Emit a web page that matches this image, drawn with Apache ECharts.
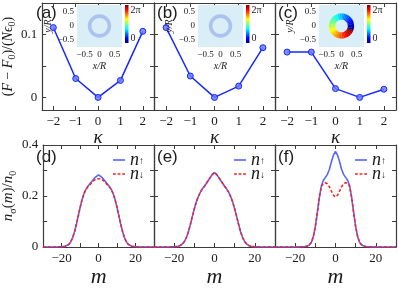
<!DOCTYPE html>
<html><head><meta charset="utf-8">
<script src="https://cdn.jsdelivr.net/npm/echarts@6/dist/echarts.min.js"></script>
<style>html,body{margin:0;padding:0;background:#fff}#c{width:399px;height:289px}</style>
</head><body><div id="c"></div>
<script>
// ---------- data ----------
const kappa = [-2, -1, 0, 1, 2];
const energyA = [0.111, 0.030, 0.000, 0.027, 0.105];
const energyB = [0.111, 0.034, 0.000, 0.018, 0.079];
const energyC = [0.072, 0.072, 0.014, 0.000, 0.013];
const kappaTicks = [-2, -1, 0, 1, 2];
const energyTicks = [0, 0.05, 0.1];
const energyLabels = [0, 0.1];

const insetTicks = [-0.5, 0, 0.5];
const ringAB = [0.27, 0.39];          // inner, outer radius (x/R)
const ringC = [0.21, 0.42];
const phaseEdges = [0,10,20,30,40,50,60,70,80,90,100,110,120,130,140,150,160,170,180,190,200,210,220,230,240,250,260,270,280,290,300,310,320,330,340,350,360];
const phaseCut = -20;                 // angle (deg) where phase jumps 2π -> 0
const colorbarRange = [0, 2 * Math.PI];

const m = [-30,-25,-22,-20,-19,-18,-17,-16,-15,-14,-13,-12,-11,-10,-9,-8,-7,-6,-5,-4,-3,-2,-1,0,1,2,3,4,5,6,7,8,9,10,11,12,13,14,15,16,17,18,19,20,22,25,30];
const dUp = [0,0,0.0005,0.001,0.002,0.003,0.006,0.011,0.021,0.037,0.060,0.089,0.122,0.155,0.184,0.207,0.224,0.236,0.245,0.254,0.263,0.272,0.279,0.283,0.279,0.272,0.263,0.254,0.245,0.236,0.224,0.207,0.184,0.155,0.122,0.089,0.060,0.037,0.021,0.011,0.006,0.003,0.002,0.001,0.0005,0,0];
const dDown = [0,0,0.0005,0.001,0.002,0.003,0.006,0.011,0.021,0.037,0.060,0.089,0.122,0.155,0.184,0.207,0.224,0.234,0.242,0.250,0.258,0.264,0.268,0.270,0.268,0.264,0.258,0.250,0.242,0.234,0.224,0.207,0.184,0.155,0.122,0.089,0.060,0.037,0.021,0.011,0.006,0.003,0.002,0.001,0.0005,0,0];
const eUp = [0,0,0.0005,0.001,0.002,0.003,0.006,0.011,0.021,0.036,0.058,0.087,0.119,0.150,0.177,0.198,0.215,0.228,0.238,0.250,0.262,0.274,0.285,0.292,0.285,0.274,0.262,0.250,0.238,0.228,0.215,0.198,0.177,0.150,0.119,0.087,0.058,0.036,0.021,0.011,0.006,0.003,0.002,0.001,0.0005,0,0];
const eDown = eUp.slice();
const fUp = [0,0,0,0,0,0.0005,0.001,0.001,0.002,0.004,0.008,0.018,0.040,0.080,0.135,0.195,0.240,0.262,0.273,0.285,0.305,0.335,0.360,0.375,0.360,0.335,0.305,0.285,0.273,0.262,0.240,0.195,0.135,0.080,0.040,0.018,0.008,0.004,0.002,0.001,0.001,0.0005,0,0,0,0,0];
const fDown = [0,0,0,0,0,0.0005,0.001,0.001,0.002,0.004,0.008,0.018,0.040,0.080,0.135,0.195,0.238,0.249,0.252,0.248,0.236,0.219,0.203,0.196,0.203,0.219,0.236,0.248,0.252,0.249,0.238,0.195,0.135,0.080,0.040,0.018,0.008,0.004,0.002,0.001,0.001,0.0005,0,0,0,0,0];
const mTicks = [-20, -10, 0, 10, 20];
const mLabels = [-20, 0, 20];
const densTicks = [0, 0.1, 0.2, 0.3, 0.4];
const densLabels = [0, 0.2, 0.4];
const legendNames = ['n↑', 'n↓'];

// ---------- style ----------
const SERIF = '"Liberation Serif","DejaVu Serif",serif';
const SANS = '"Liberation Sans",Arial,sans-serif';
const AX = '#3c3c3c';
const TXT = '#1a1a1a';
const fmt = v => String(v).replace('-', '\u2212');
const lefts = [33, 154, 275], W = 121;
const topT = 3, topH = 107, botT = 145, botH = 117;

function jet(t) {
  const c = x => Math.round(255 * Math.max(0, Math.min(1, x)));
  return 'rgb(' + c(1.5 - Math.abs(4 * t - 3)) + ',' + c(1.5 - Math.abs(4 * t - 2)) + ',' + c(1.5 - Math.abs(4 * t - 1)) + ')';
}
const jetStops = [];
for (let i = 0; i <= 8; i++) jetStops.push({ offset: i / 8, color: jet(1 - i / 8) });

const grid = [], xAxis = [], yAxis = [], series = [], graphic = [];

function addFrame(g, xmin, xmax, xticks, xlabels, ymin, ymax, yticks, ylabels, xname, xnameSize, xnameGap, yname, ynameGap) {
  const xi = xAxis.length, yi = yAxis.length;
  const line = { show: true, onZero: false, lineStyle: { color: AX, width: 1.2 } };
  const tick = vals => ({ show: true, inside: true, length: 4, customValues: vals, lineStyle: { color: AX, width: 1 } });
  const lab = (vals, show) => ({ show: show, customValues: vals, formatter: fmt, fontFamily: SERIF, fontSize: 13, color: TXT, margin: 5 });
  xAxis.push({ type: 'value', gridIndex: g, min: xmin, max: xmax, axisLine: line, axisTick: tick(xticks), axisLabel: lab(xlabels, true), splitLine: { show: false },
    name: xname, nameLocation: 'middle', nameGap: xnameGap, nameTextStyle: { fontFamily: SERIF, fontStyle: 'italic', fontSize: xnameSize, color: TXT } });
  xAxis.push({ type: 'value', gridIndex: g, position: 'top', min: xmin, max: xmax, axisLine: line, axisTick: tick(xticks), axisLabel: { show: false }, splitLine: { show: false } });
  const yl = { type: 'value', gridIndex: g, position: 'left', min: ymin, max: ymax, axisLine: line, axisTick: tick(yticks), axisLabel: lab(ylabels, !!ylabels), splitLine: { show: false } };
  if (yname) Object.assign(yl, { name: yname.text, nameLocation: 'middle', nameGap: ynameGap, nameRotate: 90, nameTextStyle: { rich: yname.rich } });
  yAxis.push(yl);
  yAxis.push({ type: 'value', gridIndex: g, position: 'right', min: ymin, max: ymax, axisLine: line, axisTick: tick(yticks), axisLabel: { show: false }, splitLine: { show: false } });
  return [xi, yi];
}

const richAxisName = (size, sub) => ({
  i: { fontFamily: SERIF, fontStyle: 'italic', fontSize: size, color: TXT, lineHeight: size + 4 },
  r: { fontFamily: SERIF, fontSize: size, color: TXT, lineHeight: size + 4 },
  s: { fontFamily: SERIF, fontSize: sub, color: TXT, verticalAlign: 'bottom', lineHeight: size + 4 }
});

// ---------- top panels ----------
const energies = [energyA, energyB, energyC];
const labelsTop = ['(a)', '(b)', '(c)'];
for (let p = 0; p < 3; p++) {
  const L = lefts[p];
  grid.push({ left: L, top: topT, width: W, height: topH, containLabel: false });
  const g = grid.length - 1;
  const yname = p === 0 ? { text: '{r|(}{i|F}{r| − }{i|F}{s|0}{r|)/(}{i|Nϵ}{s|0}{r|)}', rich: richAxisName(14, 10) } : null;
  const [xi, yi] = addFrame(g, -2.5, 2.5, kappaTicks, kappaTicks, -0.02, 0.15, energyTicks, p === 0 ? energyLabels : null, 'κ', 19, 17, yname, 20);
  series.push({ type: 'line', xAxisIndex: xi, yAxisIndex: yi, data: kappa.map((k, i) => [k, energies[p][i]]),
    symbol: 'circle', symbolSize: 6, lineStyle: { color: '#1428ff', width: 1.5 },
    itemStyle: { color: 'rgba(110,125,255,0.85)', borderColor: '#1428ff', borderWidth: 1 }, z: 3 });
  graphic.push({ type: 'text', left: L + 3, top: topT + 2, style: { text: labelsTop[p], font: '17px ' + SANS, fill: TXT } });

  // inset
  grid.push({ left: L + 44, top: 5, width: 45, height: 42, show: true, backgroundColor: '#d9eef6', borderWidth: 0, z: 5 });
  const gi = grid.length - 1;
  const ix = xAxis.length, iy = yAxis.length;
  const small = { fontFamily: SERIF, fontSize: 9, color: TXT, formatter: fmt, margin: 3, customValues: insetTicks };
  xAxis.push({ type: 'value', gridIndex: gi, min: -0.75, max: 0.75, axisLine: { show: false, onZero: false }, axisTick: { show: false }, splitLine: { show: false },
    axisLabel: small, name: 'x/R', nameLocation: 'middle', nameGap: 14, nameTextStyle: { fontFamily: SERIF, fontStyle: 'italic', fontSize: 10, color: TXT }, z: 5 });
  yAxis.push({ type: 'value', gridIndex: gi, min: -0.75, max: 0.75, axisLine: { show: false, onZero: false }, axisTick: { show: false }, splitLine: { show: false },
    axisLabel: small, name: 'y/R', nameLocation: 'middle', nameGap: 19, nameRotate: 90, nameTextStyle: { fontFamily: SERIF, fontStyle: 'italic', fontSize: 10, color: TXT }, z: 5 });
  if (p < 2) {
    series.push({ type: 'custom', xAxisIndex: ix, yAxisIndex: iy, z: 6, silent: true, data: [[0, 0, ringAB[0], ringAB[1]]],
      renderItem: (params, api) => {
        const c = api.coord([api.value(0), api.value(1)]);
        const r0 = api.size([api.value(2), 0])[0], r = api.size([api.value(3), 0])[0];
        return { type: 'ring', shape: { cx: c[0], cy: c[1], r0: r0, r: r }, style: { fill: '#abc3ee' } };
      } });
  } else {
    const segs = [];
    for (let i = 0; i < phaseEdges.length - 1; i++) segs.push([phaseEdges[i], phaseEdges[i + 1]]);
    series.push({ type: 'custom', xAxisIndex: ix, yAxisIndex: iy, z: 6, silent: true, data: segs,
      renderItem: (params, api) => {
        const a0 = api.value(0), a1 = api.value(1);
        const c = api.coord([0, 0]);
        const r0 = api.size([ringC[0], 0])[0], r = api.size([ringC[1], 0])[0];
        let ph = ((a0 + a1) / 2 - phaseCut) % 360; if (ph < 0) ph += 360;
        const col = jet(ph / 360);
        return { type: 'sector', shape: { cx: c[0], cy: c[1], r0: r0, r: r, startAngle: -(a1 + 0.6) * Math.PI / 180, endAngle: -a0 * Math.PI / 180, clockwise: true },
          style: { fill: col } };
      } });
  }
  // colorbar
  grid.push({ left: L + 92, top: 5, width: 3.5, height: 38, z: 5 });
  const gc = grid.length - 1;
  const cx = xAxis.length, cy = yAxis.length;
  xAxis.push({ type: 'value', gridIndex: gc, min: 0, max: 1, show: false });
  yAxis.push({ type: 'value', gridIndex: gc, position: 'right', min: colorbarRange[0], max: colorbarRange[1], axisLine: { show: false, onZero: false }, axisTick: { show: false }, splitLine: { show: false },
    axisLabel: { customValues: colorbarRange, formatter: v => v === 0 ? '0' : '2π', fontFamily: SERIF, fontSize: 10, color: TXT, margin: 2,
      verticalAlignMinLabel: 'bottom', verticalAlignMaxLabel: 'top' } });
  series.push({ type: 'custom', xAxisIndex: cx, yAxisIndex: cy, z: 6, silent: true, data: [colorbarRange],
    renderItem: (params, api) => {
      const p0 = api.coord([0, api.value(1)]), p1 = api.coord([1, api.value(0)]);
      return { type: 'rect', shape: { x: p0[0], y: p0[1], width: p1[0] - p0[0], height: p1[1] - p0[1] },
        style: { fill: new echarts.graphic.LinearGradient(0, 0, 0, 1, jetStops) } };
    } });
}

// ---------- bottom panels ----------
const ups = [dUp, eUp, fUp], downs = [dDown, eDown, fDown];
const labelsBot = ['(d)', '(e)', '(f)'];
const legend = [];
const icons = ['path://M0,0h12v1.6h-12z', 'path://M0,0h2.6v1.6h-2.6zM4.2,0h2.6v1.6h-2.6zM8.4,0h2.6v1.6h-2.6z'];
for (let p = 0; p < 3; p++) {
  const L = lefts[p];
  grid.push({ left: L, top: botT, width: W, height: botH });
  const g = grid.length - 1;
  const yname = p === 0 ? { text: '{i|n}{s|σ}{r|(}{i|m}{r|)/}{i|n}{s|0}', rich: richAxisName(15, 10) } : null;
  const [xi, yi] = addFrame(g, -30, 30, mTicks, mLabels, 0, 0.4, densTicks, p === 0 ? densLabels : null, 'm', 22, 19, yname, 22);
  series.push({ type: 'line', name: legendNames[0], xAxisIndex: xi, yAxisIndex: yi, data: m.map((v, i) => [v, ups[p][i]]), symbol: 'none',
    lineStyle: { color: '#5566ff', width: 1.6 }, itemStyle: { color: '#5566ff' }, z: 3 });
  series.push({ type: 'line', name: legendNames[1], xAxisIndex: xi, yAxisIndex: yi, data: m.map((v, i) => [v, downs[p][i]]), symbol: 'none',
    lineStyle: { color: '#ff2020', width: 1.5, type: [3, 2] }, itemStyle: { color: '#ff2020' }, z: 4 });
  graphic.push({ type: 'text', left: L + 3, top: botT + 4, style: { text: labelsBot[p], font: '17px ' + SANS, fill: TXT } });
  legendNames.forEach((nm, k) => {
    legend.push({ orient: 'vertical', left: L + 80, top: 151 + 14 * k, itemWidth: 12, itemHeight: 10, selectedMode: false, padding: 0,
      data: [{ name: nm, icon: icons[k] }],
      formatter: name => '{n|n}{s|' + name.slice(1) + '}',
      textStyle: { rich: { n: { fontFamily: SERIF, fontStyle: 'italic', fontSize: 18, color: TXT, lineHeight: 12 },
        s: { fontFamily: SERIF, fontSize: 10, color: TXT, lineHeight: 12, verticalAlign: 'bottom' } } } });
  });
}

const chart = echarts.init(document.getElementById('c'), null, { renderer: 'canvas' });
chart.setOption({ animation: false, backgroundColor: '#fff', grid, xAxis, yAxis, series, legend, graphic });
</script></body></html>
